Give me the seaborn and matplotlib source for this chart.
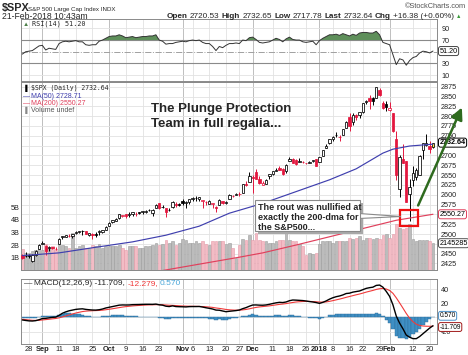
import matplotlib
matplotlib.use('Agg')
import matplotlib.pyplot as plt
import matplotlib.patches as mpatches
import matplotlib.transforms as mtrans
import seaborn as sns
import numpy as np
import pandas as pd

sns.set_theme(style='white')
plt.rcParams['font.family'] = ['Liberation Sans', 'DejaVu Sans']

# trading days shown (24-Aug-2017 .. 21-Feb-2018)
holidays = ['2017-09-04', '2017-11-23', '2017-12-25', '2018-01-01', '2018-01-15', '2018-02-19']
dates = pd.bdate_range('2017-08-24', '2018-02-21', freq='C', holidays=holidays)

opens = [2447, 2444, 2447, 2431, 2447, 2462, 2475, 2470, 2464, 2468, 2462,
         2474, 2492, 2493, 2494, 2495, 2502, 2506, 2507, 2507, 2498,
         2499, 2501, 2504, 2504, 2511, 2521, 2530, 2534, 2540, 2547,
         2551, 2549, 2550, 2552, 2556, 2556, 2556, 2562, 2553, 2567,
         2579, 2568, 2566, 2560, 2570, 2577, 2576, 2584, 2580, 2581,
         2588, 2592, 2590, 2585, 2581, 2577, 2577, 2570, 2573, 2583,
         2580, 2589, 2598, 2600, 2602, 2605, 2627, 2633, 2645, 2657,
         2640, 2626, 2628, 2647, 2652, 2661, 2667, 2665, 2660, 2685,
         2692, 2688, 2683, 2684, 2680, 2682, 2686, 2690, 2684, 2698,
         2719, 2731, 2743, 2752, 2746, 2752, 2771, 2799, 2785, 2802,
         2802, 2810, 2836, 2845, 2847, 2847, 2867, 2833, 2832, 2816,
         2809, 2741, 2615, 2691, 2685, 2602, 2637, 2646, 2651, 2713,
         2727, 2723, 2720.53]
highs = [2448, 2454, 2449, 2450, 2460, 2475, 2481, 2472, 2469, 2468, 2467,
         2489, 2496, 2498, 2499, 2501, 2508, 2507, 2509, 2508, 2503,
         2502, 2504, 2511, 2510, 2520, 2530, 2535, 2540, 2552, 2549,
         2552, 2555, 2555, 2556, 2557, 2559, 2560, 2564, 2563, 2576,
         2579, 2573, 2567, 2567, 2583, 2581, 2579, 2588, 2583, 2588,
         2593, 2598, 2595, 2587, 2583, 2587, 2580, 2571, 2590, 2583,
         2585, 2601, 2600, 2605, 2606, 2627, 2635, 2657, 2650, 2665,
         2648, 2635, 2641, 2652, 2660, 2669, 2672, 2668, 2679, 2695,
         2694, 2691, 2693, 2686, 2682, 2686, 2688, 2692, 2696, 2715,
         2729, 2743, 2749, 2760, 2751, 2768, 2787, 2807, 2807, 2806,
         2811, 2833, 2842, 2853, 2849, 2873, 2871, 2838, 2839, 2836,
         2809, 2763, 2701, 2728, 2685, 2639, 2673, 2669, 2702, 2732,
         2754, 2738, 2732.65]
lows = [2437, 2442, 2439, 2428, 2445, 2462, 2474, 2446, 2458, 2461, 2459,
        2474, 2487, 2492, 2492, 2491, 2500, 2503, 2497, 2499, 2496,
        2488, 2493, 2497, 2503, 2510, 2521, 2528, 2533, 2538, 2543,
        2541, 2543, 2546, 2547, 2552, 2551, 2553, 2559, 2547, 2567,
        2564, 2567, 2544, 2559, 2565, 2568, 2572, 2574, 2567, 2576,
        2585, 2585, 2585, 2566, 2575, 2577, 2566, 2557, 2573, 2577,
        2576, 2589, 2595, 2600, 2598, 2605, 2621, 2633, 2605, 2639,
        2627, 2625, 2628, 2641, 2650, 2660, 2662, 2650, 2655, 2685,
        2680, 2676, 2683, 2680, 2677, 2680, 2683, 2674, 2684, 2698,
        2719, 2728, 2738, 2747, 2737, 2752, 2770, 2763, 2778, 2790,
        2796, 2809, 2831, 2818, 2829, 2846, 2851, 2818, 2813, 2813,
        2760, 2638, 2593, 2681, 2581, 2533, 2622, 2637, 2649, 2690,
        2725, 2707, 2717.78]
closes = [2439, 2443, 2444, 2446, 2458, 2472, 2477, 2458, 2466, 2465, 2461,
          2488, 2496, 2498, 2496, 2500, 2504, 2507, 2508, 2501, 2502,
          2497, 2497, 2507, 2510, 2519, 2529, 2535, 2538, 2552, 2549,
          2545, 2551, 2555, 2551, 2553, 2558, 2559, 2561, 2562, 2575,
          2565, 2569, 2557, 2560, 2581, 2573, 2575, 2579, 2580, 2588,
          2591, 2591, 2594, 2585, 2582, 2585, 2579, 2565, 2586, 2579,
          2582, 2599, 2597, 2602, 2601, 2627, 2626, 2648, 2642, 2639,
          2630, 2629, 2637, 2652, 2660, 2664, 2663, 2652, 2676, 2690,
          2681, 2679, 2685, 2683, 2681, 2683, 2688, 2674, 2696, 2713,
          2724, 2743, 2748, 2751, 2748, 2768, 2786, 2776, 2803, 2798,
          2810, 2833, 2839, 2838, 2839, 2873, 2854, 2822, 2824, 2822,
          2762, 2649, 2695, 2682, 2581, 2620, 2656, 2663, 2699, 2731,
          2732, 2716, 2732.64]
close_before_first = 2444
volume_b = [1.7, 1.4, 1.4, 1.5, 1.6, 2.0, 1.6, 2.1, 1.8, 1.9, 1.6,
            2.0, 2.0, 1.9, 1.8, 3.0, 1.8, 1.9, 2.0, 1.8, 1.8,
            2.0, 1.9, 2.1, 1.8, 1.9, 1.9, 1.9, 1.9, 2.0, 1.8,
            1.6, 1.9, 1.9, 1.9, 1.8, 1.8, 1.9, 1.9, 2.0, 2.2,
            2.0, 2.1, 2.4, 2.2, 2.3, 2.0, 2.2, 2.5, 2.4, 2.2,
            2.2, 2.3, 2.2, 2.3, 2.1, 2.0, 2.3, 2.3, 2.3, 2.3,
            2.1, 2.2, 1.8, 1.0, 2.0, 2.5, 2.4, 2.8, 2.4, 3.0,
            2.4, 2.3, 2.3, 2.2, 2.2, 2.3, 2.4, 2.4, 3.0, 2.4,
            2.3, 2.3, 2.1, 1.9, 1.2, 1.4, 1.3, 1.4, 2.1, 2.3,
            2.3, 2.3, 2.2, 2.3, 2.3, 2.3, 2.3, 2.6, 2.5, 2.6,
            2.7, 2.4, 2.6, 2.6, 2.5, 2.6, 2.5, 2.8, 2.9, 2.6,
            2.9, 3.7, 3.4, 3.3, 3.4, 3.7, 2.5, 2.3, 2.4, 2.4,
            2.4, 2.3, 2.145]

ma50_dates = ['2017-08-24', '2017-09-11', '2017-09-25', '2017-10-11', '2017-10-25', '2017-11-08',
              '2017-11-21', '2017-12-06', '2017-12-20', '2018-01-05', '2018-01-18', '2018-01-24',
              '2018-01-30', '2018-02-02', '2018-02-09', '2018-02-21']
ma50_vals = [2445, 2452, 2465, 2480, 2497, 2520, 2553, 2578, 2608, 2638, 2666, 2686,
             2706, 2716, 2724, 2728.71]
ma200_dates = ['2017-08-24', '2017-09-22', '2017-10-26', '2017-11-27', '2017-12-06', '2017-12-20',
               '2018-01-05', '2018-01-22', '2018-02-05', '2018-02-21']
ma200_vals = [2345, 2375, 2410, 2441, 2452, 2472, 2493, 2514, 2535, 2550.27]

rsi = [46, 50, 51, 52, 56, 60, 61, 53, 56, 55, 54,
       64, 67, 68, 67, 68, 69, 67, 67, 62, 61,
       62, 62, 68, 70, 73, 76, 77, 77, 79, 77,
       74, 75, 76, 74, 75, 76, 76, 77, 77, 79,
       70, 68, 63, 64, 64, 66, 67, 68, 67, 69,
       70, 69, 70, 66, 64, 64, 59, 52, 59, 57,
       61, 64, 64, 65, 64, 70, 69, 74, 75, 71,
       66, 65, 66, 67, 70, 73, 71, 67, 72, 75,
       71, 70, 70, 67, 66, 67, 68, 62, 69, 73,
       76, 79, 79, 80, 78, 81, 79, 77, 80, 78,
       82, 83, 83, 82, 82, 85, 79, 66, 64, 62,
       45, 28, 38, 36, 27, 35, 40, 42, 48, 51,
       50, 48, 51.2]
macd = [-3.5, -4.2, -4.8, -5.0, -4.5, -3.2, -1.5, -1.2, -0.5, 0.2, 0.5,
        3, 6, 8, 9.5, 10.5, 11.5, 12, 12.3, 11.5, 11,
        10.6, 10.5, 11, 12, 13.5, 14.5, 15.5, 16.5, 17.5, 17.8,
        17.7, 17.8, 18.2, 18.3, 18.4, 18.6, 18.7, 18.7, 18.6, 19,
        18, 17.5, 16, 15.5, 16.5, 15.5, 15.3, 15.2, 15, 15.4,
        15.5, 15.5, 15.6, 14.8, 13.8, 13, 12, 10.5, 10.3, 9.2,
        8.2, 8.8, 9.3, 9.8, 10.6, 12.5, 14, 16, 17.7, 17.8,
        17.5, 17.4, 17.8, 18.7, 19.8, 20.8, 21.5, 21.2, 22, 23.8,
        24.8, 24.6, 24.3, 24, 23.4, 22.6, 22, 21.2, 20, 21.5,
        23.5, 26, 28, 29.5, 30.5, 32, 34, 34.5, 36, 36.8,
        37.6, 39.5, 41.3, 42.3, 43, 45.5, 46, 43, 37, 30,
        18, 2, -8, -16, -25, -28, -30, -30, -27, -23,
        -19, -15, -11.709]
signal = [-2.5, -3, -3.5, -4, -4.1, -4, -3.5, -3, -2.5, -1.9, -1.4,
          -0.5, 0.8, 2.2, 3.6, 5, 6.3, 7.4, 8.4, 9, 9.4,
          9.6, 9.8, 10, 10.4, 11, 11.7, 12.4, 13.2, 14, 14.8,
          15.4, 15.9, 16.4, 16.8, 17.1, 17.4, 17.7, 17.9, 18, 18.2,
          18.2, 18.1, 17.7, 17.3, 17.2, 16.9, 16.6, 16.3, 16.1, 16,
          15.9, 15.8, 15.7, 15.5, 15.2, 14.8, 14.3, 13.5, 12.9, 12.2,
          11.4, 10.9, 10.6, 10.4, 10.4, 10.8, 11.4, 12.3, 13.4, 14.3,
          15, 15.5, 16, 16.5, 17.2, 17.9, 18.6, 19.1, 19.7, 20.5,
          21.3, 22, 22.4, 22.7, 22.8, 22.8, 22.6, 22.3, 21.9, 21.8,
          22.1, 22.9, 23.9, 25, 26.1, 27.3, 28.6, 29.8, 31, 32.2,
          33.3, 34.6, 36, 37.2, 38.4, 39.8, 40.8, 41.2, 40.4, 38.3,
          34.3, 27.9, 20.7, 13.3, 5.7, -1, -6, -9.5, -11.3, -12.1,
          -12.4, -12.5, -12.279]
hist = [-1.0, -1.2, -1.3, -1.0, -0.4, 0.8, 2.0, 1.8, 2.0, 2.1, 1.9,
        3.5, 5.2, 5.8, 5.9, 5.5, 5.2, 4.6, 3.9, 2.5, 1.6,
        1.0, 0.7, 1.0, 1.6, 2.5, 2.8, 3.1, 3.3, 3.5, 3.0,
        2.3, 1.9, 1.8, 1.5, 1.3, 1.2, 1.0, 0.8, 0.6, 0.8,
        -0.2, -0.6, -1.7, -1.8, -0.7, -1.4, -1.3, -1.1, -1.1, -0.6,
        -0.4, -0.3, -0.1, -0.7, -1.4, -1.8, -2.3, -3.0, -2.6, -3.0,
        -3.2, -2.1, -1.3, -0.6, 0.2, 1.7, 2.6, 3.7, 4.3, 3.5,
        2.5, 1.9, 1.8, 2.2, 2.6, 2.9, 2.9, 2.1, 2.3, 3.3,
        3.5, 2.6, 1.9, 1.3, 0.6, -0.2, -0.6, -1.1, -1.9, -0.3,
        1.4, 3.1, 4.1, 4.5, 4.4, 4.7, 5.4, 4.7, 5.0, 4.6,
        4.3, 4.9, 5.3, 5.1, 4.6, 5.7, 5.2, 1.8, -3.4, -8.3,
        -16.3, -25.9, -28.7, -29.3, -30.7, -27, -24, -20.5, -15.7, -10.9,
        -6.6, -2.5, 0.57]

tick_dates = ['2017-08-28', '2017-09-01', '2017-09-11', '2017-09-18', '2017-09-25', '2017-10-02',
              '2017-10-09', '2017-10-16', '2017-10-23', '2017-11-01', '2017-11-06', '2017-11-13',
              '2017-11-20', '2017-11-27', '2017-12-01', '2017-12-11', '2017-12-18', '2017-12-26',
              '2018-01-02', '2018-01-08', '2018-01-16', '2018-01-22', '2018-01-29', '2018-02-01',
              '2018-02-12', '2018-02-20']
tick_labels = ['28', 'Sep', '11', '18', '25', 'Oct', '9', '16', '23', 'Nov', '6', '13', '20', '27',
               'Dec', '11', '18', '26', '2018', '8', '16', '22', '29', 'Feb', '12', '20']
month_labels = {'Sep', 'Oct', 'Nov', 'Dec', '2018', 'Feb'}

# ---- layout helpers (pixels -> figure fraction)
W, H = 468, 355
def fx(p): return p / W
def fy(p): return 1 - p / H

RED = '#e3173e'
BLUE = '#3f3fae'
fig = plt.figure(figsize=(W / 100, H / 100), dpi=100)
fig.patch.set_facecolor('white')
L, R = 21, 437
ax_rsi = fig.add_axes([fx(L), fy(81), (R - L) / W, (81 - 19) / H])
ax_vol = fig.add_axes([fx(L), fy(270), (R - L) / W, (270 - 82) / H])
ax = ax_vol.twinx()
ax_macd = fig.add_axes([fx(L), fy(344), (R - L) / W, (344 - 279) / H])

x = np.arange(len(dates))
o = np.array(opens); h = np.array(highs); l = np.array(lows); c = np.array(closes)
prev = np.r_[close_before_first, c[:-1]]
tick_pos = dates.get_indexer(pd.to_datetime(tick_dates))
xlim = (-0.4, len(dates) + 0.2)
fs = 5.2

for a in (ax_rsi, ax_vol, ax, ax_macd):
    a.set_xlim(*xlim)
    for s in a.spines.values():
        s.set_color('#8a8a8a')
        s.set_linewidth(0.7)
    a.tick_params(length=0, labelsize=fs, colors='#222222')
    a.grid(False)

# vertical grid lines
for a in (ax_rsi, ax_vol, ax_macd):
    for p, lab in zip(tick_pos, tick_labels):
        a.axvline(p, color='#b4b4b4' if lab in month_labels else '#e2e2e2', lw=0.6, zorder=0)

# ---- RSI panel
ax_rsi.set_ylim(0, 106)
for lev in (10, 90):
    ax_rsi.axhline(lev, color='#e2e2e2', lw=0.6, zorder=0)
for lev in (30, 70):
    ax_rsi.axhline(lev, color='#8a8a8a', lw=0.8, zorder=1)
ax_rsi.axhline(50, color='#a0a0a0', lw=0.7, ls='-.', zorder=1)
rsi_a = np.array(rsi, dtype=float)
ax_rsi.fill_between(x, rsi_a, 70, where=rsi_a > 70, interpolate=True, color='#5e8f5a', lw=0, zorder=2)
sns.lineplot(x=x, y=rsi_a, ax=ax_rsi, color='#333333', lw=0.7, zorder=3)
ax_rsi.set_xticks(tick_pos)
ax_rsi.set_xticklabels([])
ax_rsi.yaxis.tick_right()
ax_rsi.set_yticks([10, 30, 70, 90])
ax_rsi.set_ylabel('')

# ---- volume (underneath) and price panel
ax_vol.set_ylim(0, (270 - 82) / 12.5)
ax.set_ylim(2408.4, 2887)
ax_vol.yaxis.tick_left()
ax_vol.set_yticks([1, 2, 3, 4, 5])
ax_vol.set_yticklabels(['1B', '2B', '3B', '4B', '5B'])
ax_vol.tick_params(axis='y', pad=1)
price_ticks = list(range(2425, 2876, 25))
hidden_price = {2475, 2550, 2725}          # sit under the value tags
hgrid = mtrans.blended_transform_factory(ax_vol.transAxes, ax.transData)
for p in price_ticks:
    ax_vol.plot([0, 1], [p, p], transform=hgrid, color='#e2e2e2', lw=0.6, zorder=0)

down = c < prev
vcol = np.where(down, '#f3bcc5', '#bcbcbc')
vedge = np.where(down, '#e59aa8', '#9c9c9c')
ax_vol.bar(x, volume_b, width=0.82, color=vcol, edgecolor=vedge, lw=0.4, zorder=2)
ax_vol.set_xticks(tick_pos)
ax_vol.set_xticklabels(tick_labels)
for t in ax_vol.get_xticklabels():
    t.set_fontsize(5.4)
    if t.get_text() in month_labels:
        t.set_fontweight('bold')
ax_vol.tick_params(axis='x', pad=1.5)

ax.yaxis.tick_right()
ax.set_yticks(price_ticks)
ax.set_yticklabels(['' if p in hidden_price else str(p) for p in price_ticks])
ax.tick_params(axis='y', pad=2.5)
ax.set_xticks([])

ccol = np.where(down, RED, 'black')
face = np.where(c >= o, 'white', ccol).astype(object)
face[-1] = '#ffe84a'
ax.vlines(x, l, h, colors=ccol, lw=0.7, zorder=3)
ax.bar(x, np.maximum(np.abs(c - o), 0.9), bottom=np.minimum(o, c), width=0.7,
       color=list(face), edgecolor=list(ccol), lw=0.55, zorder=4)

sns.lineplot(x=dates.get_indexer(pd.to_datetime(ma50_dates)), y=ma50_vals, ax=ax,
             color=BLUE, lw=0.85, zorder=5)
sns.lineplot(x=dates.get_indexer(pd.to_datetime(ma200_dates)), y=ma200_vals, ax=ax,
             color='#e0405c', lw=0.85, zorder=5)
ax.set_ylabel('')

# ---- MACD panel
ax_macd.set_ylim(-37.6, 54.6)
for lev in (-20, 0, 20, 40):
    ax_macd.axhline(lev, color='#e2e2e2', lw=0.6, zorder=0)
ax_macd.bar(x, hist, width=1.0, color='#3f8fc4', edgecolor='#2d6e9c', lw=0.3, zorder=2)
sns.lineplot(x=x, y=signal, ax=ax_macd, color='#f03a3a', lw=0.8, zorder=3)
sns.lineplot(x=x, y=macd, ax=ax_macd, color='black', lw=1.0, zorder=4)
ax_macd.yaxis.tick_right()
ax_macd.set_yticks([-20, 0, 20, 40])
ax_macd.set_yticklabels(['-20', '', '20', '40'])
ax_macd.tick_params(axis='y', pad=2.5)
ax_macd.set_xticks(tick_pos)
ax_macd.set_xticklabels(tick_labels)
for t in ax_macd.get_xticklabels():
    t.set_fontsize(5.4)
    if t.get_text() in month_labels:
        t.set_fontweight('bold')
ax_macd.tick_params(axis='x', pad=1.5)
ax_macd.set_ylabel('')

# ---- value tags on the right edge
def tag(host, ytrans, yv, text, ec, tc='black', weight='normal', size=fs):
    tr = mtrans.blended_transform_factory(host.transAxes, ytrans)
    host.text(1.006, yv, text, transform=tr, ha='left', va='center', fontsize=size, color=tc,
              fontweight=weight, clip_on=False, zorder=20,
              bbox=dict(boxstyle='round,pad=0.14,rounding_size=0.3', fc='white', ec=ec, lw=0.7))

tag(ax, ax.transData, closes[-1], '2732.64', 'black', weight='bold')
tag(ax, ax.transData, ma200_vals[-1], '2550.27', '#e0405c')
tag(ax, ax_vol.transData, volume_b[-1], '2145285', '#555555')
tag(ax_rsi, ax_rsi.transData, rsi[-1], '51.20', '#444444')
tag(ax_macd, ax_macd.transData, hist[-1] + 1.8, '0.570', '#4a90c8', size=4.7)
tag(ax_macd, ax_macd.transData, macd[-1] - 1.8, '-11.709', '#a01818', size=4.7)

# ---- annotations
ax.add_patch(mpatches.Rectangle((113.1, 2521), 5.3, 39, fill=False, ec='#ee1111', lw=1.6, zorder=9))

arrow = mpatches.FancyArrowPatch((fx(417), fy(208)), (fx(463), fy(105)), transform=fig.transFigure,
                                 arrowstyle='-|>,head_length=7,head_width=3.5', lw=1.8,
                                 color='#2e6a1e', mutation_scale=1)
fig.add_artist(arrow)

bx0, by0, bx1, by1 = 255, 200.3, 360, 231.3
fig.add_artist(mpatches.Rectangle((fx(bx0 + 2.5), fy(by1 + 2.5)), (bx1 - bx0) / W, (by1 - by0) / H,
                                  transform=fig.transFigure, fc='#a8a8a8', ec='none'))
fig.add_artist(mpatches.Polygon([(fx(bx1 - 1), fy(213.5)), (fx(401), fy(216.5)), (fx(bx1 - 1), fy(218.5))],
                                transform=fig.transFigure, fc='white', ec='#8a8a8a', lw=0.8))
fig.add_artist(mpatches.Rectangle((fx(bx0), fy(by1)), (bx1 - bx0) / W, (by1 - by0) / H,
                                  transform=fig.transFigure, fc='white', ec='#8a8a8a', lw=0.8))
for i, line in enumerate(['The rout was nullified at', 'exactly the 200-dma for', 'the S&P500...']):
    fig.text(fx(258.3), fy(210.3 + 9.6 * i), line, fontsize=6.5, fontweight='bold', va='baseline')

fig.text(fx(150.7), fy(111.7), 'The Plunge Protection', fontsize=9.5, fontweight='bold', va='baseline')
fig.text(fx(150.7), fy(126.7), 'Team in full regalia...', fontsize=9.5, fontweight='bold', va='baseline')

# legends inside panels
mono = 'DejaVu Sans Mono'
fig.text(fx(23), fy(88), '\u2590', fontsize=4.5, va='center', color='black')
fig.text(fx(31), fy(88), '$SPX (Daily) 2732.64', fontsize=4.7, family=mono, va='center')
fig.text(fx(23), fy(96.5), '\u2014', fontsize=5, va='center', color=BLUE)
fig.text(fx(30.5), fy(96.5), 'MA(50) 2728.71', fontsize=5, va='center', color=BLUE)
fig.text(fx(23), fy(103.3), '\u2014', fontsize=5, va='center', color='#e0405c')
fig.text(fx(30.5), fy(103.3), 'MA(200) 2550.27', fontsize=5, va='center', color='#e0405c')
fig.text(fx(23), fy(110), '\u2590', fontsize=4.5, va='center', color='#888888')
fig.text(fx(30.5), fy(110), 'Volume undef', fontsize=5, va='center', color='#555555')
fig.text(fx(23), fy(24), '\u25b2', fontsize=4.5, va='center', color='#4d7f49')
fig.text(fx(31.5), fy(24), 'RSI(14) 51.20', fontsize=4.9, family=mono, va='center')

renderer = fig.canvas.get_renderer()
def pieces(x0, y0, parts, size, gap=1.6):
    xp = x0
    for s, kw in parts:
        opts = {'fontsize': size, 'va': 'center', 'ha': 'left'}
        opts.update(kw)
        t = fig.text(fx(xp), fy(y0), s, **opts)
        xp += t.get_window_extent(renderer=renderer).width + gap

pieces(24, 283.3, [('\u2014', {}), ('MACD(12,26,9) -11.709,', {}),
                   ('-12.279,', {'color': '#f03a3a'}), ('0.570', {'color': '#4aa6d8'})], 6.0, gap=2)

# header
fig.text(fx(2), fy(10.5), '$SPX', fontsize=7.8, fontweight='bold', va='baseline')
fig.text(fx(28), fy(10.5), 'S&P 500 Large Cap Index INDX', fontsize=4.4, va='baseline')
fig.text(fx(405), fy(6.5), '\u00a9StockCharts.com', fontsize=5.3, va='center', color='#555555')
fig.text(fx(2), fy(16.5), '21-Feb-2018 10:43am', fontsize=6.2, va='center')
b = {'fontweight': 'bold'}
pieces(167, 16.5, [('Open', b), ('2720.53', {}), ('High', b), ('2732.65', {}), ('Low', b),
                   ('2717.78', {}), ('Last', b), ('2732.64', {}), ('Chg', b),
                   ('+16.38 (+0.60%)', {}), ('\u25b2', {'color': '#3a9a3a', 'fontsize': 4})], 5.9, gap=2.2)

fig.savefig('out.png', dpi=100)
